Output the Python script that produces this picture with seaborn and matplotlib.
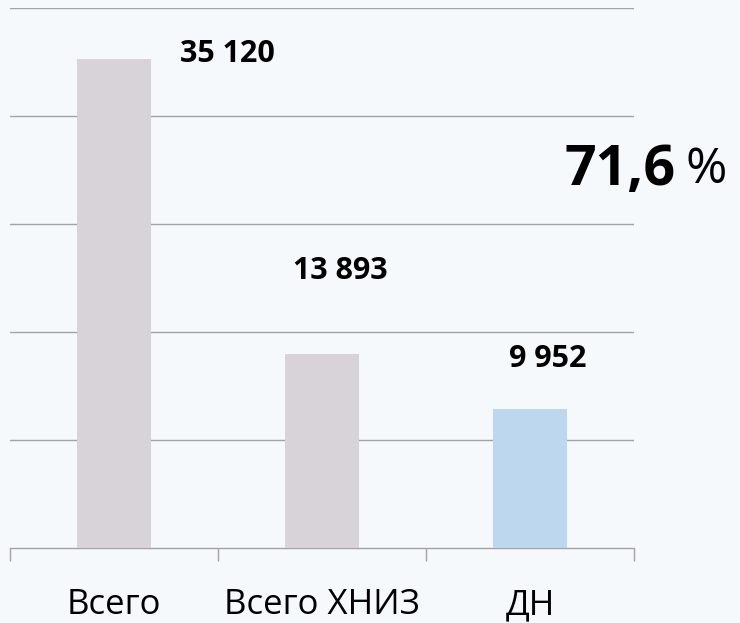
import matplotlib
matplotlib.use('Agg')
import matplotlib.pyplot as plt
import seaborn as sns
import pandas as pd

# data
CATEGORIES = ["Всего", "Всего ХНИЗ", "ДН"]
VALUES = [35120, 13893, 9952]
BAR_COLORS = ["#d8d3d8", "#d8d3d8", "#bdd7ee"]
GRID_STEP = 7750
N_GRID = 5

# label offsets from bar top (pixels), picked by eye
LABEL_OFFSETS = [(113, 5), (18, 83), (18, 50)]

sns.set_theme(style="white")
plt.rcParams['font.family'] = ['Open Sans', 'DejaVu Sans']

df = pd.DataFrame({"cat": CATEGORIES, "val": VALUES})

fig = plt.figure(figsize=(7.4, 6.23), dpi=100, facecolor="#f6f9fc")
ax = fig.add_axes([10 / 740, 75 / 623, 624 / 740, 540 / 623])
ax.set_facecolor("none")

sns.barplot(data=df, x="cat", y="val", hue="cat", palette=BAR_COLORS,
            width=0.356, legend=False, ax=ax, zorder=3, saturation=1,
            linewidth=0)

ax.set_ylim(0, GRID_STEP * N_GRID)
ax.set_xlim(-0.5, len(CATEGORIES) - 0.5)
ax.set_yticks([GRID_STEP * k for k in range(1, N_GRID + 1)])
ax.set_yticklabels([])
ax.tick_params(axis="y", length=0)
ax.grid(axis="y", color="#a3a3a3", linewidth=1.0, zorder=0)
ax.grid(axis="x", visible=False)

for s in ["top", "right", "left"]:
    ax.spines[s].set_visible(False)
ax.spines["bottom"].set_color("#a3a3a3")
ax.spines["bottom"].set_linewidth(1.0)

# boundary ticks between categories, labels on minor ticks
ax.set_xticks([i - 0.5 for i in range(len(CATEGORIES) + 1)])
ax.set_xticklabels([])
ax.tick_params(axis="x", which="major", direction="out", length=9,
               width=1.0, color="#a3a3a3", bottom=True)
ax.set_xticks(range(len(CATEGORIES)), minor=True)
ax.set_xticklabels(CATEGORIES, minor=True, fontsize=25, color="black")
ax.tick_params(axis="x", which="minor", length=0, pad=29)
ax.set_xlabel("")
ax.set_ylabel("")

for i, v in enumerate(VALUES):
    txt = f"{v:,}".replace(",", " ")
    dx, dy = LABEL_OFFSETS[i]
    ax.annotate(txt, xy=(i, v), xytext=(dx, dy), textcoords="offset pixels",
                ha="center", va="center", fontsize=22, fontweight="bold",
                color="black")

share = VALUES[2] / VALUES[1] * 100
share_txt = f"{share:.1f}".replace(".", ",")
fig.text(564 / 740, 1 - 170 / 623, share_txt, fontsize=40, fontweight="bold",
         ha="left", va="center", color="black")
fig.text(686 / 740, 1 - 170 / 623, "%", fontsize=36, ha="left", va="center",
         color="black")

fig.savefig("out.png", dpi=100, facecolor=fig.get_facecolor())
